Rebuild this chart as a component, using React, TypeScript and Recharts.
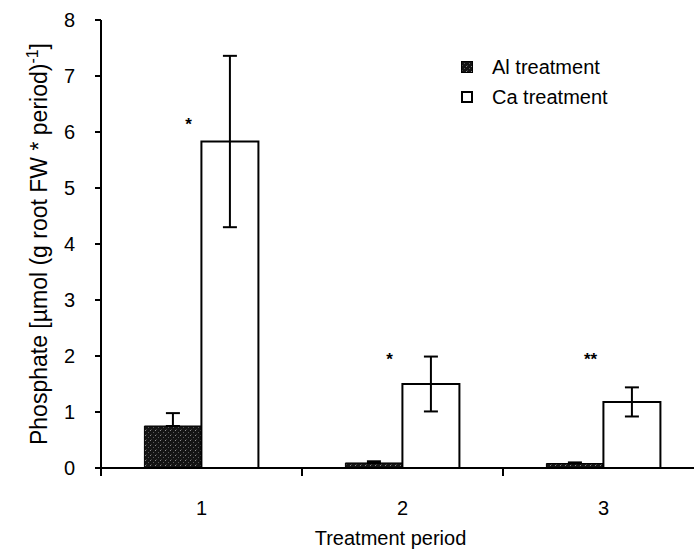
import React from 'react';
import {
    BarChart, Bar, XAxis, YAxis, ErrorBar, Legend, ReferenceDot,
} from 'recharts';

// valeurs
const periods = ['1', '2', '3'];
const alValues = [0.75, 0.09, 0.08];
const alErrors = [0.23, 0.03, 0.02];
const caValues = [5.83, 1.5, 1.18];
const caErrors = [1.53, 0.49, 0.26];
const sigMarks = ['*', '*', '**'];
const sigLevels = [6.2, 2.0, 2.0];
const yTicks = [0, 1, 2, 3, 4, 5, 6, 7, 8];

const FONT = '"Liberation Sans", Arial, sans-serif';

const data = periods.map((p, i) => ({
    period: p,
    al: alValues[i],
    // la partie basse est cachée par la barre foncée
    alErr: [0, alErrors[i]],
    ca: caValues[i],
    caErr: caErrors[i],
}));

// tick entre les catégories, comme dans Excel
// eslint-disable-next-line @typescript-eslint/no-explicit-any
const PeriodTick = ({ x, y, payload }: any) => {
    const half = payload && payload.offset ? payload.offset : 100;
    return (
        <g>
            <line x1={x - half} y1={y} x2={x - half} y2={y + 8} stroke="#000" strokeWidth={2} />
            <text x={x} y={y + 47} textAnchor="middle" fontSize={20} fontFamily={FONT} fill="#000">
                {payload.value}
            </text>
        </g>
    );
};

// eslint-disable-next-line @typescript-eslint/no-explicit-any
const YTitle = ({ viewBox }: any) => {
    const cy = viewBox.y + viewBox.height / 2;
    const cx = 47;
    return (
        <text
            x={cx}
            y={cy}
            transform={`rotate(-90, ${cx}, ${cy})`}
            textAnchor="middle"
            fontSize={23}
            fontFamily={FONT}
            fill="#000"
        >
            Phosphate [µmol (g root FW * period)
            <tspan dy={-9} fontSize={16}>-1</tspan>
            <tspan dy={9}>]</tspan>
        </text>
    );
};

// eslint-disable-next-line @typescript-eslint/no-explicit-any
const XTitle = ({ viewBox }: any) => (
    <text
        x={viewBox.x + viewBox.width / 2 - 12}
        y={545}
        textAnchor="middle"
        fontSize={20}
        fontFamily={FONT}
        fill="#000"
    >
        Treatment period
    </text>
);

const LegendBox = () => (
    <div style={{ fontFamily: FONT, fontSize: 20, color: '#000', lineHeight: '30px' }}>
        <div style={{ display: 'flex', alignItems: 'center' }}>
            <svg width={12} height={12} style={{ marginRight: 19 }}>
                <rect x={0.5} y={0.5} width={11} height={11} fill="url(#alPat)" stroke="#000" />
            </svg>
            Al treatment
        </div>
        <div style={{ display: 'flex', alignItems: 'center' }}>
            <svg width={12} height={12} style={{ marginRight: 19 }}>
                <rect x={1} y={1} width={10} height={10} fill="#fff" stroke="#000" strokeWidth={2} />
            </svg>
            Ca treatment
        </div>
    </div>
);

export default function App() {
    return (
        <div style={{ position: 'absolute', left: 0, top: 0, width: 694, height: 549, overflow: 'hidden', background: '#fff' }}>
            <BarChart
                width={710}
                height={549}
                data={data}
                margin={{ top: 20, right: 6, bottom: 21, left: 0 }}
                barCategoryGap="21.6%"
                barGap={0}
            >
                <defs>
                    <pattern id="alPat" width="5" height="5" patternUnits="userSpaceOnUse">
                        <rect width="5" height="5" fill="#141414" />
                        <rect x="0" y="0" width="1" height="1" fill="#8a8a8a" />
                        <rect x="3" y="2" width="1" height="1" fill="#5c5c5c" />
                        <rect x="1" y="4" width="1" height="1" fill="#3c3c3c" />
                    </pattern>
                </defs>
                <XAxis
                    dataKey="period"
                    height={60}
                    axisLine={{ stroke: '#000', strokeWidth: 2 }}
                    tickLine={false}
                    tickSize={0}
                    tickMargin={0}
                    tick={<PeriodTick />}
                    interval={0}
                    label={<XTitle />}
                />
                <YAxis
                    width={101}
                    domain={[0, 8]}
                    ticks={yTicks}
                    interval={0}
                    allowDataOverflow
                    axisLine={{ stroke: '#000', strokeWidth: 2 }}
                    tickLine={{ stroke: '#000', strokeWidth: 2 }}
                    tickSize={6}
                    tickMargin={20}
                    tick={{ fontSize: 20, fontFamily: FONT, fill: '#000' }}
                    label={<YTitle />}
                />
                <Legend
                    layout="vertical"
                    align="center"
                    verticalAlign="middle"
                    content={<LegendBox />}
                    wrapperStyle={{ left: 461, top: 52, width: 200 }}
                />
                <Bar dataKey="al" name="Al treatment" fill="url(#alPat)" stroke="#000" strokeWidth={1} isAnimationActive={false}>
                    <ErrorBar dataKey="alErr" width={7} stroke="#000" strokeWidth={2} direction="y" />
                </Bar>
                <Bar dataKey="ca" name="Ca treatment" fill="#fff" stroke="#000" strokeWidth={2} isAnimationActive={false}>
                    <ErrorBar dataKey="caErr" width={7} stroke="#000" strokeWidth={2} direction="y" />
                </Bar>
                {periods.map((p, i) => (
                    <ReferenceDot
                        key={`sig-${p}`}
                        x={p}
                        y={sigLevels[i]}
                        r={0}
                        ifOverflow="visible"
                        shape={(props: any) => (
                            <text
                                x={props.cx - 13}
                                y={props.cy + 9}
                                textAnchor="middle"
                                fontSize={17}
                                fontWeight="bold"
                                fontFamily={FONT}
                                fill="#000"
                            >
                                {sigMarks[i]}
                            </text>
                        )}
                    />
                ))}
            </BarChart>
        </div>
    );
}
